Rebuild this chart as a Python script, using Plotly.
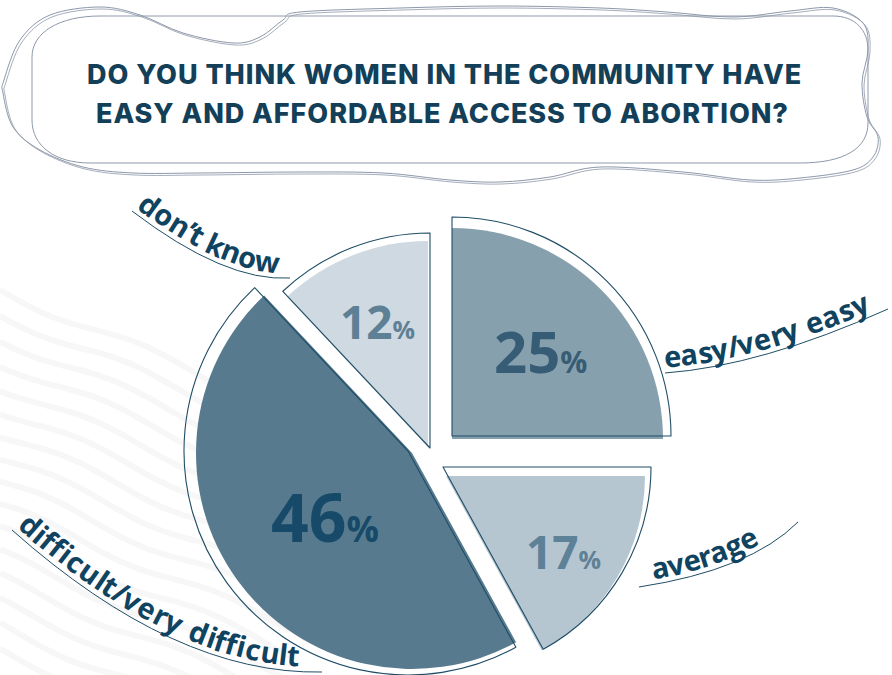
import math
import plotly.graph_objects as go

W, H = 892, 675

# ---- data -------------------------------------------------------------
categories = ["easy/very easy", "average", "difficult/very difficult", "don’t know"]
shares = [25, 17, 46, 12]
title_lines = [
    "DO YOU THINK WOMEN IN THE COMMUNITY HAVE",
    "EASY AND AFFORDABLE ACCESS TO ABORTION?",
]

# ---- styling ----------------------------------------------------------
fill_colors = ["#87a0ad", "#b6c6d0", "#577a8e", "#cfd9e1"]
number_colors = ["#365d75", "#5d8196", "#164a68", "#5e8094"]
navy = "#0f435f"
edge_navy = "#1f4d66"
bubble_grey = "#8e98aa"

# each wedge is nudged on its own: (centre x, centre y, radius) in pixels
fill_geom = [(452, 439, 211), (446, 481, 204), (412, 453, 216), (428, 447, 206)]
line_geom = [(452, 436, 219), (443, 474, 215), (408, 451, 224), (430, 448, 215)]
number_depth = [0.59, 0.67, 0.50, 0.66]
number_sizes = [(58, 30), (46, 25), (66, 36), (46, 25)]

# label baselines: quadratic curves (start, control, end) and text x-extent
label_curves = [
    ((665, 373), (761, 366), (888, 309), 665, 873),
    ((639, 587), (750, 570), (798, 522), 655, 763),
    ((12, 530), (175, 675), (322, 672), 13, 298),
    ((132, 211), (225, 282), (290, 278), 133, 277),
]
label_size = 29

# Open Sans advance widths (em)
ADV = {
    "a": 0.556, "c": 0.476, "d": 0.613, "e": 0.561, "f": 0.339, "g": 0.548,
    "i": 0.253, "k": 0.525, "l": 0.253, "n": 0.614, "o": 0.604, "r": 0.408,
    "s": 0.477, "t": 0.353, "u": 0.614, "v": 0.501, "w": 0.778, "y": 0.501,
    "/": 0.350, "’": 0.168, " ": 0.260,
}


def px(x, y):
    return x / W, 1 - y / H


def domain_for(cx, cy, r):
    return dict(
        x=[max(0.0, (cx - r) / W), min(1.0, (cx + r) / W)],
        y=[max(0.0, 1 - (cy + r) / H), min(1.0, 1 - (cy - r) / H)],
    )


fig = go.Figure()
n = len(shares)
clear = "rgba(0,0,0,0)"

# filled wedges
for i in range(n):
    cx, cy, r = fill_geom[i]
    fig.add_trace(go.Pie(
        values=shares, labels=categories, sort=False, direction="clockwise",
        rotation=0, textinfo="none", hoverinfo="label+percent", showlegend=False,
        marker=dict(colors=[fill_colors[j] if j == i else clear for j in range(n)],
                    line=dict(width=0)),
        domain=domain_for(cx, cy, r),
    ))

# thin offset outlines
for i in range(n):
    cx, cy, r = line_geom[i]
    fig.add_trace(go.Pie(
        values=shares, labels=categories, sort=False, direction="clockwise",
        rotation=0, textinfo="none", hoverinfo="skip", showlegend=False,
        marker=dict(colors=[clear] * n,
                    line=dict(color=edge_navy,
                              width=[1.1 if j == i else 0 for j in range(n)])),
        domain=domain_for(cx, cy, r),
    ))

annotations = []

# percentage labels placed on each wedge's bisector
total = sum(shares)
acc = 0
for i, v in enumerate(shares):
    mid = (acc + v / 2) / total * 2 * math.pi
    acc += v
    cx, cy, r = fill_geom[i]
    d = number_depth[i] * r
    x, y = cx + d * math.sin(mid), cy - d * math.cos(mid)
    big, small = number_sizes[i]
    annotations.append(dict(
        x=px(x, y)[0], y=px(x, y)[1], xref="paper", yref="paper",
        showarrow=False, xanchor="center", yanchor="middle",
        text=f"{v}<span style='font-size:{small}px'>%</span>",
        font=dict(family="Open Sans, sans-serif", size=big,
                  color=number_colors[i], weight=700),
    ))


def quad(p0, c, p2, t):
    x = (1 - t) ** 2 * p0[0] + 2 * (1 - t) * t * c[0] + t ** 2 * p2[0]
    y = (1 - t) ** 2 * p0[1] + 2 * (1 - t) * t * c[1] + t ** 2 * p2[1]
    return x, y


shapes = []

# category names set along curved baselines
for label, (p0, c, p2, xs, xe) in zip(categories, label_curves):
    steps = 600
    pts = [quad(p0, c, p2, k / steps) for k in range(steps + 1)]
    cum = [0.0]
    for k in range(1, len(pts)):
        cum.append(cum[-1] + math.dist(pts[k - 1], pts[k]))

    def s_at_x(xv):
        k = min(range(len(pts)), key=lambda j: abs(pts[j][0] - xv))
        return cum[k]

    def at_s(s):
        k = 1
        while k < len(cum) - 1 and cum[k] < s:
            k += 1
        a, b = pts[k - 1], pts[k]
        seg = cum[k] - cum[k - 1] or 1.0
        f = (s - cum[k - 1]) / seg
        x = a[0] + (b[0] - a[0]) * f
        y = a[1] + (b[1] - a[1]) * f
        tx, ty = (b[0] - a[0]) / seg, (b[1] - a[1]) / seg
        return x, y, tx, ty

    s0, s1 = s_at_x(xs), s_at_x(xe)
    adv = [ADV.get(ch, 0.55) * label_size * 1.06 for ch in label]
    track = ((s1 - s0) - sum(adv)) / max(1, len(label) - 1)
    s = s0
    for ch, a in zip(label, adv):
        sc = s + a / 2
        s += a + track
        if ch == " ":
            continue
        x, y, tx, ty = at_s(sc)
        ux, uy = ty, -tx
        off = 0.57 * label_size
        gx, gy = x + ux * off, y + uy * off
        annotations.append(dict(
            x=gx / W, y=1 - gy / H, xref="paper", yref="paper",
            showarrow=False, xanchor="center", yanchor="middle",
            text=ch, textangle=math.degrees(math.atan2(ty, tx)),
            font=dict(family="Open Sans, sans-serif", size=label_size,
                      color=navy, weight=700),
        ))
    (ax, ay), (bx, by), (ex, ey) = px(*p0), px(*c), px(*p2)
    shapes.append(dict(
        type="path", xref="paper", yref="paper",
        path=f"M {ax},{ay} Q {bx},{by} {ex},{ey}",
        line=dict(color=edge_navy, width=1),
    ))


def smooth_closed(points, dx=0.0, dy=0.0):
    p = [(x + dx, y + dy) for x, y in points]
    m = len(p)
    x0, y0 = px(*p[0])
    out = [f"M {x0},{y0}"]
    for i in range(m):
        a, b, c2, d = p[i - 1], p[i], p[(i + 1) % m], p[(i + 2) % m]
        c1 = (b[0] + (c2[0] - a[0]) / 6, b[1] + (c2[1] - a[1]) / 6)
        c3 = (c2[0] - (d[0] - b[0]) / 6, c2[1] - (d[1] - b[1]) / 6)
        q1, q2, q3 = px(*c1), px(*c3), px(*c2)
        out.append(f"C {q1[0]},{q1[1]} {q2[0]},{q2[1]} {q3[0]},{q3[1]}")
    out.append("Z")
    return " ".join(out)


# hand-drawn bubble behind the title
loop = [(4, 80), (20, 40), (50, 15), (100, 7), (140, 15), (183, 33), (233, 43),
        (260, 37), (283, 20), (300, 12), (400, 8), (500, 6), (600, 8), (667, 12),
        (733, 17), (790, 11), (833, 8), (863, 23), (868, 50), (862, 83),
        (867, 117), (878, 137), (873, 157), (853, 170), (800, 178), (750, 180),
        (683, 172), (600, 167), (550, 177), (500, 182), (450, 180), (383, 173),
        (300, 172), (200, 173), (133, 173), (83, 167), (40, 150), (13, 127),
        (3, 93)]
shapes.append(dict(type="path", xref="paper", yref="paper",
                   path=smooth_closed(loop), line=dict(color=bubble_grey, width=1)))
shapes.append(dict(type="path", xref="paper", yref="paper",
                   path=smooth_closed(loop, 2, 2), line=dict(color=bubble_grey, width=0.8)))


def rel(x, y):
    a, b = px(x, y)
    return f"{a},{b}"


inner = (f"M {rel(100,16)} L {rel(833,16)} C {rel(855,16)} {rel(868,30)} {rel(868,50)} "
         f"L {rel(868,123)} C {rel(868,148)} {rel(845,163)} {rel(800,163)} "
         f"L {rel(90,163)} C {rel(55,163)} {rel(32,146)} {rel(32,120)} "
         f"L {rel(32,57)} C {rel(32,32)} {rel(60,16)} {rel(100,16)} Z")
shapes.append(dict(type="path", xref="paper", yref="paper", path=inner,
                   line=dict(color=bubble_grey, width=1)))

# faint wavy texture in the lower left
for k in range(16):
    y0 = 290 + 24 * k
    pts = []
    for xv in range(0, 300, 10):
        yv = y0 + 0.42 * xv + 5 * math.sin(xv / 30.0 + k * 0.4)
        pts.append(px(xv, yv))
    path = "M " + " L ".join(f"{a},{b}" for a, b in pts)
    shapes.append(dict(type="path", xref="paper", yref="paper", path=path,
                       layer="below", line=dict(color="rgba(0,0,0,0.03)", width=6)))

# title
for line, xc, yc in zip(title_lines, [444, 442], [74, 113]):
    annotations.append(dict(
        x=xc / W, y=1 - yc / H, xref="paper", yref="paper", showarrow=False,
        xanchor="center", yanchor="middle",
        text=f"<span style='letter-spacing:0.95px'>{line}</span>",
        font=dict(family="Inter, Roboto, sans-serif", size=27, color="#133f59", weight=800),
    ))

fig.update_layout(
    width=W, height=H, margin=dict(l=0, r=0, t=0, b=0),
    paper_bgcolor="white", plot_bgcolor="white", showlegend=False,
    annotations=annotations, shapes=shapes,
)

fig.write_html("out.html")
